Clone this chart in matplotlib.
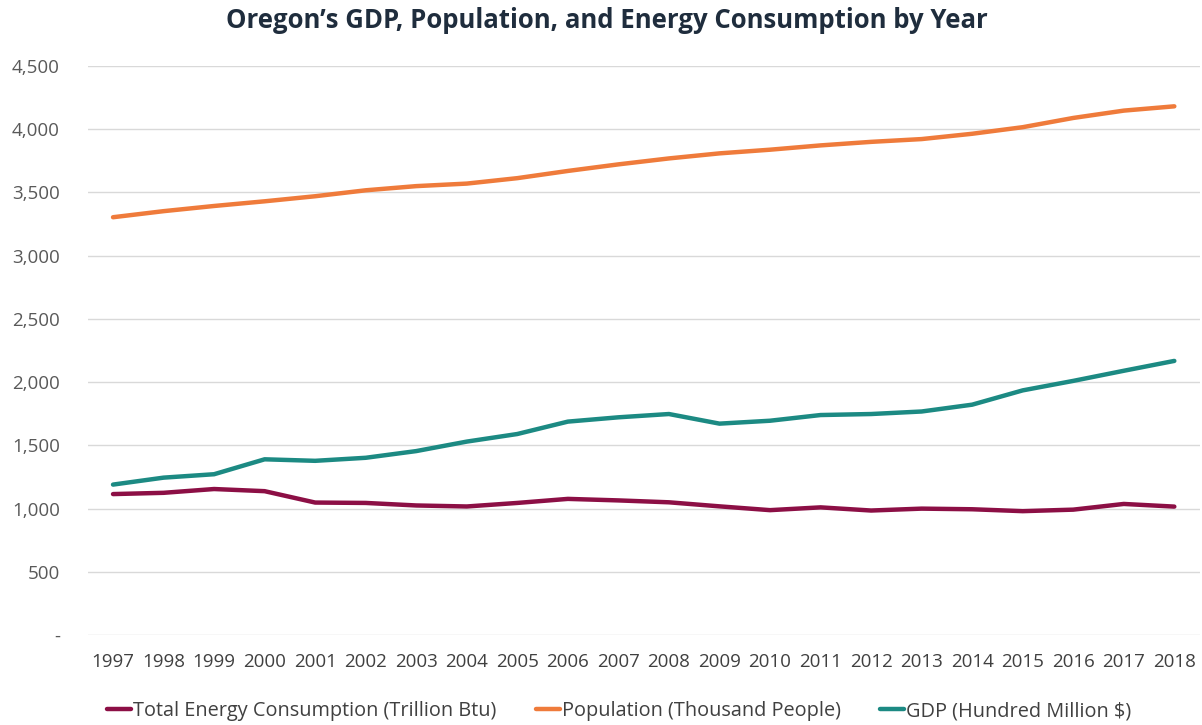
import matplotlib
matplotlib.use("Agg")
import matplotlib.pyplot as plt
from matplotlib.ticker import FuncFormatter

plt.rcParams['font.family'] = ['Open Sans', 'DejaVu Sans']

# data
years = [str(y) for y in range(1997, 2019)]
energy = [1115, 1125, 1155, 1138, 1048, 1045, 1025, 1017, 1045, 1077, 1065, 1050,
          1018, 988, 1010, 985, 1000, 995, 980, 992, 1037, 1016]
population = [3304, 3352, 3393, 3430, 3470, 3517, 3550, 3570, 3613, 3670, 3722, 3769,
              3809, 3838, 3872, 3900, 3922, 3964, 4016, 4089, 4147, 4181]
gdp = [1190, 1245, 1272, 1390, 1378, 1402, 1455, 1530, 1590, 1688, 1722, 1748,
       1672, 1695, 1740, 1748, 1768, 1822, 1935, 2010, 2090, 2168]

labels = ["Total Energy Consumption (Trillion Btu)",
          "Population (Thousand People)",
          "GDP (Hundred Million $)"]
colors = ["#8C0F45", "#EF7B3B", "#1C8A83"]

fig = plt.figure(figsize=(12.02, 7.25), dpi=100)
ax = fig.add_axes([0.073, 0.124, 0.925, 0.785])

x = range(len(years))
for vals, lab, col in zip([energy, population, gdp], labels, colors):
    ax.plot(x, vals, color=col, lw=3.2, label=lab, solid_capstyle='round')

ax.set_xlim(-0.5, len(years) - 0.5)
ax.set_ylim(0, 4500)
ax.set_yticks(range(0, 4501, 500))
ax.yaxis.set_major_formatter(FuncFormatter(lambda v, p: "-" if v == 0 else f"{int(v):,}"))
ax.set_xticks(list(x))
ax.set_xticklabels(years)

ax.grid(axis='y', color='#D9D9D9', lw=1)
ax.set_axisbelow(True)
for s in ax.spines.values():
    s.set_visible(False)
ax.tick_params(length=0, colors='#404040', labelsize=13.5)
ax.tick_params(axis='y', pad=20, colors='#595959')
ax.tick_params(axis='x', pad=13)

fig.suptitle("Oregon\u2019s GDP, Population, and Energy Consumption by Year",
             x=0.505, y=0.99, fontsize=18.5, fontweight='bold', color='#1F2D3D')

ax.legend(loc='center', bbox_to_anchor=(0.478, -0.134), ncol=3, frameon=False,
          fontsize=14.3, handlelength=1.2, handletextpad=0.1, columnspacing=2.0,
          labelcolor='#404040')

fig.savefig("out.png", dpi=100, facecolor='white')
